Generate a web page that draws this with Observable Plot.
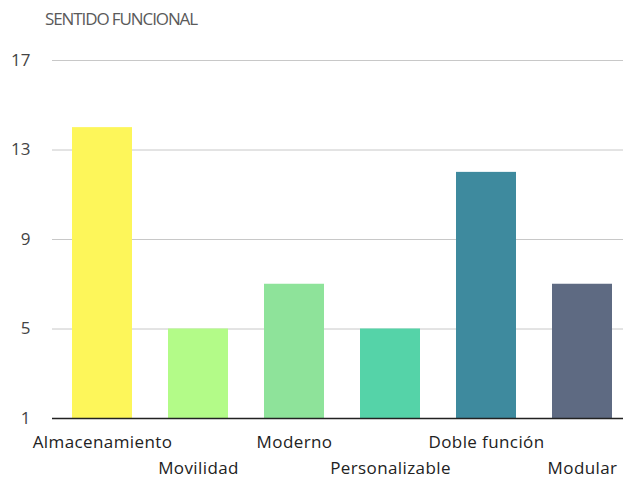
<!DOCTYPE html>
<html>
<head>
<meta charset="utf-8">
<script src="https://cdn.jsdelivr.net/npm/d3@7"></script>
<script src="https://cdn.jsdelivr.net/npm/@observablehq/plot@0.6"></script>
<style>
  body { margin: 0; background: #fff; font-family: "Open Sans", sans-serif; }
  #sub { height: 28px; padding-top: 8px; padding-left: 45px; font-size: 17px; line-height: 22px; color: #5a5a5a; letter-spacing: -1.1px; }
  g[aria-label="x-axis tick label"] text { letter-spacing: 0.4px; }
</style>
</head>
<body>
<div id="sub">SENTIDO FUNCIONAL</div>
<div id="chart"></div>
<script>
const categories = ["Almacenamiento", "Movilidad", "Moderno", "Personalizable", "Doble función", "Modular"];
const values = [14, 5, 7, 5, 12, 7];
const colors = ["#fdf65a", "#b3fb88", "#8ee39a", "#55d3a8", "#3e8a9e", "#5e6a82"];
const yTicks = [1, 5, 9, 13, 17];

const data = categories.map((c, i) => ({category: c, value: values[i], color: colors[i]}));
const evenCats = categories.filter((d, i) => i % 2 === 0);
const oddCats = categories.filter((d, i) => i % 2 === 1);

const chart = Plot.plot({
  width: 623,
  height: 445,
  marginTop: 24,
  marginBottom: 63,
  marginLeft: 52,
  marginRight: 0,
  style: {fontFamily: "Open Sans, sans-serif", fontSize: "17px", background: "#fff"},
  x: {domain: categories, range: [51, 633], paddingInner: 0.38, paddingOuter: 0.2, label: null},
  y: {domain: [1, 17], label: null},
  marks: [
    Plot.gridY(yTicks.filter(d => d !== 1), {stroke: "#c8c8c8", strokeOpacity: 1, strokeWidth: 1}),
    Plot.barY(data, {x: "category", y1: 1, y2: "value", fill: "color"}),
    Plot.ruleY([1], {stroke: "#222", strokeWidth: 1.5}),
    Plot.axisY({ticks: yTicks, tickSize: 0, tickPadding: 22, fill: "#444", label: null}),
    Plot.axisX({ticks: evenCats, tickSize: 0, tickPadding: 17, fill: "#222", label: null}),
    Plot.axisX({ticks: oddCats, tickSize: 0, tickPadding: 43, fill: "#222", label: null})
  ]
});
document.getElementById("chart").appendChild(chart);
</script>
</body>
</html>
